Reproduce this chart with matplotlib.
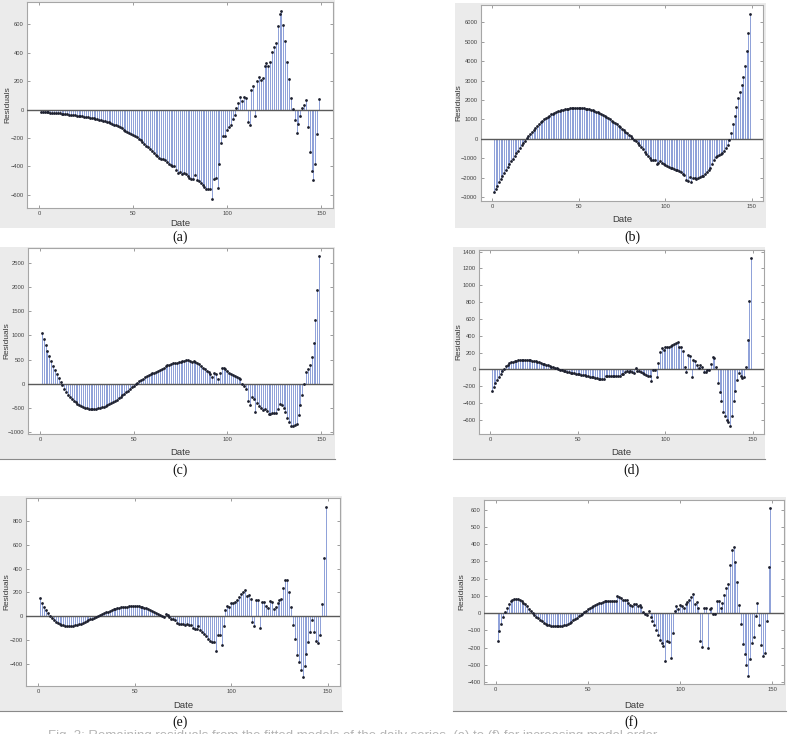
import numpy as np
import matplotlib
matplotlib.use("Agg")
import matplotlib.pyplot as plt
from matplotlib.patches import Rectangle
from matplotlib.lines import Line2D

# ---------------- data ----------------
dates = list(range(1, 150))

res_a = [-16, -17, -18, -19, -20, -21, -22, -23, -25, -26,
         -27, -28, -30, -31, -33, -35, -36, -38, -40, -42,
         -44, -46, -48, -50, -52, -54, -57, -59, -62, -65,
         -68, -71, -74, -78, -82, -86, -90, -95, -100, -105,
         -111, -118, -125, -132, -140, -147, -154, -161, -169, -177,
         -186, -196, -206, -217, -229, -241, -253, -266, -279, -292,
         -304, -316, -327, -339, -350, -348, -356, -368, -380, -390,
         -393, -400, -427, -443, -439, -455, -448, -453, -470, -483,
         -490, -490, -460, -497, -502, -518, -530, -544, -556, -560,
         -556, -626, -490, -479, -553, -385, -238, -187, -187, -140,
         -121, -105, -63, -35, 9, 44, 91, 58, 86, 79,
         -89, -105, 140, 168, -44, 200, 226, 210, 222, 310,
         329, 304, 336, 402, 441, 472, 588, 675, 691, 598,
         481, 332, 217, 79, 7, -75, -163, -98, -42, 12,
         35, 70, -119, -297, -434, -495, -385, -170, 75]

res_b = [-2735, -2565, -2398, -2233, -2071, -1911, -1754, -1600, -1448, -1299,
         -1153, -1010, -870, -732, -597, -465, -336, -210, -87, 33,
         150, 265, 375, 480, 580, 675, 765, 850, 930, 1005,
         1075, 1140, 1200, 1255, 1305, 1350, 1390, 1425, 1456, 1483,
         1506, 1525, 1545, 1560, 1572, 1581, 1587, 1590, 1590, 1588,
         1585, 1578, 1568, 1555, 1538, 1517, 1493, 1466, 1436, 1402,
         1362, 1318, 1272, 1222, 1171, 1117, 1060, 1001, 939, 876,
         811, 743, 674, 602, 529, 454, 377, 299, 218, 137,
         54, -31, -120, -200, -290, -410, -530, -660, -786, -880,
         -975, -1110, -1080, -1060, -1282, -1220, -1162, -1220, -1265, -1330,
         -1385, -1430, -1480, -1520, -1560, -1590, -1620, -1660, -1710, -1780,
         -1863, -2120, -2150, -1950, -2240, -2030, -2030, -2070, -2000, -1950,
         -1915, -1900, -1810, -1710, -1620, -1520, -1316, -1094, -923, -855,
         -820, -786, -718, -632, -461, -290, -68, 325, 752, 1180,
         1624, 2100, 2393, 2752, 3197, 3744, 4513, 5436, 6427]

res_c = [1055, 925, 801, 685, 575, 466, 377, 288, 199, 123,
         41, -34, -110, -178, -226, -270, -310, -350, -385, -415,
         -440, -462, -480, -494, -504, -511, -515, -516, -515, -511,
         -505, -496, -485, -472, -457, -440, -421, -400, -377, -352,
         -325, -297, -268, -238, -207, -175, -143, -110, -77, -44,
         -11, 20, 50, 78, 105, 130, 153, 175, 195, 214,
         232, 250, 268, 285, 305, 330, 370, 385, 392, 400,
         420, 430, 435, 445, 452, 462, 480, 493, 485, 470,
         450, 473, 460, 430, 400, 370, 330, 295, 265, 233,
         199, 130, 226, 205, 89, 226, 336, 322, 295, 260,
         226, 199, 178, 157, 140, 120, 89, -7, -48, -116,
         -356, -438, -267, -315, -575, -397, -452, -493, -541, -520,
         -555, -623, -630, -610, -610, -596, -520, -411, -438, -507,
         -589, -705, -795, -863, -863, -856, -836, -644, -438, -226,
         -7, 233, 301, 390, 562, 836, 1308, 1938, 2630]

res_d = [-253, -205, -162, -123, -87, -55, -24, 8, 36, 55,
         71, 83, 92, 100, 106, 110, 113, 115, 116, 116,
         115, 113, 110, 106, 101, 96, 90, 84, 77, 70,
         63, 56, 48, 41, 33, 26, 19, 12, 5, -2,
         -8, -14, -20, -26, -31, -37, -42, -47, -52, -56,
         -60, -64, -68, -72, -76, -80, -85, -90, -95, -100,
         -104, -108, -112, -116, -115, -75, -83, -83, -75, -83,
         -83, -75, -83, -75, -59, -51, -36, -20, -36, -24,
         -36, -43, 16, -16, -20, -28, -43, -55, -67, -75,
         -75, -142, -8, -8, -87, 75, 209, 249, 233, 265,
         265, 261, 277, 289, 300, 312, 328, 269, 261, 221,
         24, -36, 170, 162, -87, 115, 103, 51, 12, 51,
         32, -36, -36, -12, -12, 67, 142, 138, 24, -162,
         -265, -379, -502, -549, -601, -628, -668, -549, -372, -253,
         -123, -47, -83, -107, -87, 32, 352, 810, 1320]

res_e = [150, 114, 81, 50, 25, 3, -14, -31, -45, -56,
         -64, -70, -75, -78, -80, -81, -81, -79, -76, -72,
         -67, -62, -56, -49, -42, -35, -27, -19, -11, -3,
         5, 13, 20, 27, 34, 40, 46, 52, 57, 62,
         66, 70, 74, 77, 79, 81, 83, 84, 84, 84,
         83, 82, 79, 76, 72, 67, 61, 54, 46, 38,
         29, 20, 11, 3, -3, 17, 8, -6, -20, -22,
         -33, -56, -67, -61, -61, -75, -61, -70, -72, -98,
         -103, -103, -81, -117, -128, -145, -164, -187, -206, -215,
         -215, -290, -159, -159, -242, -84, 56, 89, 78, 111,
         111, 117, 134, 162, 190, 203, 223, 167, 178, 148,
         -47, -84, 134, 134, -95, 120, 120, 84, 67, 125,
         117, 64, 78, 114, 139, 145, 234, 306, 306, 203,
         78, -75, -187, -321, -387, -451, -513, -415, -318, -215,
         -128, -28, -131, -206, -228, -159, 100, 491, 920]

res_f = [-160, -107, -63, -25, 6, 32, 53, 69, 78, 82,
         84, 82, 78, 71, 61, 50, 38, 25, 13, 2,
         -10, -21, -31, -41, -49, -56, -62, -67, -71, -74,
         -76, -77, -78, -78, -77, -75, -72, -68, -63, -57,
         -50, -43, -35, -27, -19, -11, -3, 5, 13, 21,
         28, 35, 41, 47, 52, 57, 61, 64, 67, 69,
         70, 71, 71, 70, 70,
         97, 94, 88, 78, 76, 76, 59, 48, 40, 53,
         53, 38, 44, 34, 6, -4, -13, 10, -25, -44,
         -67, -99, -128, -156, -176, -189, -277, -162, -166, -261,
         -114, 13, 40, 21, 44, 40, 32, 55, 63, 78,
         92, 113, 52, 63, 32, -162, -195, 27, 32, -200,
         23, 32, -4, -8, 69, 69, 32, 57, 107, 143,
         170, 279, 365, 384, 296, 181, 44, -61, -181, -237,
         -300, -363, -267, -174, -141, -17, 59, -67, -185, -252,
         -233, -44, 265, 607]

panel_labels = ["(a)", "(b)", "(c)", "(d)", "(e)", "(f)"]
x_ticks = [0, 50, 100, 150]
y_ticks_a = [-600, -400, -200, 0, 200, 400, 600]
y_ticks_b = [-3000, -2000, -1000, 0, 1000, 2000, 3000, 4000, 5000, 6000]
y_ticks_c = [-1000, -500, 0, 500, 1000, 1500, 2000, 2500]
y_ticks_d = [-600, -400, -200, 0, 200, 400, 600, 800, 1000, 1200, 1400]
y_ticks_e = [-400, -200, 0, 200, 400, 600, 800]
y_ticks_f = [-400, -300, -200, -100, 0, 100, 200, 300, 400, 500, 600]

for name, s in zip("abcdef", [res_a, res_b, res_c, res_d, res_e, res_f]):
    assert len(s) == len(dates), (name, len(s))

# ---------------- layout ----------------
W, H = 789, 734
fig = plt.figure(figsize=(W / 100, H / 100), dpi=100)
fig.patch.set_facecolor("white")

def frac(l, t, r, b):
    return [l / W, 1 - b / H, (r - l) / W, (b - t) / H]

FRAME_GRAY = "#ebebeb"
STEM_COLOR = "#8599d6"
DOT_COLOR = "#1c1f2e"
NARROW = ["Liberation Sans Narrow", "Liberation Sans", "DejaVu Sans"]

panels = [
    # frame box, axes box, label centre, ylabel x, xlabel y, series, yticks, bottom line
    ((0, 0, 335, 228), (27, 2, 333, 208), (180, 237), 8, 223, res_a, y_ticks_a, False),
    ((455, 3, 766, 228), (481, 5, 763, 201), (632, 237), 459, 220, res_b, y_ticks_b, False),
    ((0, 247, 335, 459), (28, 248, 333, 434), (180, 470), 7, 453, res_c, y_ticks_c, True),
    ((453, 247, 765, 459), (479, 250, 764, 434), (632, 470), 459, 453, res_d, y_ticks_d, True),
    ((0, 496, 342, 711), (26, 498, 340, 686), (180, 722), 7, 705, res_e, y_ticks_e, True),
    ((453, 497, 786, 711), (484, 500, 784, 684), (631, 722), 462, 705, res_f, y_ticks_f, True),
]

for (fb, ab, lab_xy, ylab_x, xlab_y, series, yt, bline), lab in zip(panels, panel_labels):
    l, t, r, b = fb
    fig.patches.append(Rectangle((l / W, 1 - b / H), (r - l) / W, (b - t) / H,
                                 transform=fig.transFigure, facecolor=FRAME_GRAY,
                                 edgecolor="none", zorder=-5))
    if bline:
        fig.lines.append(Line2D([l / W, r / W], [1 - b / H, 1 - b / H],
                                transform=fig.transFigure, color="#8a8a8a", lw=0.8,
                                zorder=-4))
    ax = fig.add_axes(frac(*ab))
    ax.set_zorder(2)
    ax.set_facecolor("white")
    x = np.array(dates)
    y = np.array(series)
    ax.vlines(x, 0, y, colors=STEM_COLOR, linewidth=0.65, zorder=2)
    ax.axhline(0, color="#5a5a5a", linewidth=1.0, zorder=3)
    ax.plot(x, y, "o", ms=2.0, color=DOT_COLOR, mec="none", zorder=4)
    ax.set_xticks(x_ticks)
    ax.set_yticks(yt)
    lo, hi = min(series), max(series)
    pad = 0.05 * (max(hi, 0) - min(lo, 0))
    ax.set_ylim(min(lo, 0) - pad, max(hi, 0) + pad)
    ax.set_xlim(1 - 0.05 * 148, 149 + 0.05 * 148)
    ax.tick_params(direction="in", length=2.5, width=0.6, colors="#8c8c8c",
                   labelcolor="#444444", labelsize=4.2, top=True, right=True, pad=2.5)
    for tl in ax.get_xticklabels() + ax.get_yticklabels():
        tl.set_family(NARROW)
    for sp in ax.spines.values():
        sp.set_color("#a6a6a6")
        sp.set_linewidth(0.8)
    al, at, ar, abt = ab
    ax.set_ylabel("Residuals", fontsize=6.0, color="#3a3a3a",
                  family=["Liberation Sans", "DejaVu Sans"])
    ax.yaxis.set_label_coords((ylab_x - al) / (ar - al), 0.5)
    ax.set_xlabel("Date", fontsize=6.8, color="#3a3a3a", family=NARROW)
    ax.xaxis.set_label_coords(0.5, -(xlab_y - abt) / (abt - at))
    ax.xaxis.label.set_verticalalignment("center")
    ax.yaxis.label.set_verticalalignment("center")
    fig.text(lab_xy[0] / W, 1 - lab_xy[1] / H, lab, ha="center", va="center",
             fontsize=10, family=["Liberation Serif", "DejaVu Serif"], color="#111111")

# caption line, cut off at the bottom edge as in the reference
fig.text(48 / W, 1 - 730.5 / H,
         "Fig. 3: Remaining residuals from the fitted models of the daily series, "
         "(a) to (f) for increasing model order",
         ha="left", va="top", fontsize=9.5, color="#b5b5b5",
         family=["Liberation Sans", "DejaVu Sans"])

fig.savefig("out.png", dpi=100, facecolor="white")
